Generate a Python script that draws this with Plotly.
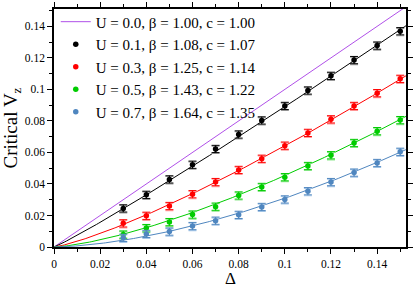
import numpy as np
import plotly.graph_objects as go

delta = [0.03, 0.04, 0.05, 0.06, 0.07, 0.08, 0.09, 0.10, 0.11, 0.12, 0.13, 0.14, 0.15]
U_vals = [0.0, 0.1, 0.3, 0.5, 0.7]
beta = [1.00, 1.08, 1.25, 1.43, 1.64]
c_vals = [1.00, 1.07, 1.14, 1.22, 1.35]

v_u01 = [0.0245, 0.0331, 0.0429, 0.0522, 0.0622, 0.0714, 0.0803, 0.0895, 0.0993, 0.1086, 0.1186, 0.1278, 0.1369]
v_u03 = [0.0150, 0.0198, 0.0260, 0.0335, 0.0412, 0.0489, 0.0560, 0.0643, 0.0724, 0.0810, 0.0895, 0.0976, 0.1067]
v_u05 = [0.0079, 0.0120, 0.0158, 0.0206, 0.0256, 0.0327, 0.0381, 0.0443, 0.0514, 0.0582, 0.0660, 0.0735, 0.0805]
v_u07 = [0.0058, 0.0083, 0.0098, 0.0133, 0.0167, 0.0204, 0.0254, 0.0302, 0.0354, 0.0412, 0.0472, 0.0533, 0.0604]
err = 0.0023

series = [None, v_u01, v_u03, v_u05, v_u07]
dark = ["#b050e8", "#000000", "#ff0000", "#00cc00", "#4f86bf"]
light = [None, "#9a9a9a", "#ff9a9a", "#90e890", "#a8c8e8"]

fig = go.Figure()
xfit = np.linspace(0, 0.1525, 200)
FONT = "Times New Roman, Liberation Serif, DejaVu Serif, serif"

for i in range(5):
    name = f"U = {U_vals[i]:.1f}, β = {beta[i]:.2f}, c = {c_vals[i]:.2f}"
    yfit = c_vals[i] * xfit ** beta[i]
    fig.add_trace(go.Scatter(x=xfit, y=yfit, mode="lines", showlegend=False,
                             line=dict(color=dark[i], width=1), hoverinfo="skip"))
    if series[i] is None:
        fig.add_trace(go.Scatter(x=[None], y=[None], mode="lines+markers", name=name,
                                 line=dict(color=dark[i], width=1),
                                 marker=dict(size=5.5, color="rgba(0,0,0,0)")))
        continue
    fig.add_trace(go.Scatter(x=delta, y=series[i], mode="markers", showlegend=False,
                             marker=dict(size=1, color="rgba(0,0,0,0)"),
                             error_y=dict(type="constant", value=err * 0.8, valueminus=err * 1.25,
                                          symmetric=False, color=light[i], thickness=1.2, width=4)))
    fig.add_trace(go.Scatter(x=delta, y=series[i], mode="markers", showlegend=False, name=name,
                             marker=dict(size=5.5, color=dark[i]),
                             error_y=dict(type="constant", value=err, color=dark[i],
                                          thickness=1, width=4)))
    fig.add_trace(go.Scatter(x=[None], y=[None], mode="markers", name=name,
                             marker=dict(size=5.5, color=dark[i])))

tickv = [0, 0.02, 0.04, 0.06, 0.08, 0.1, 0.12, 0.14]
tickt = ["0", "0.02", "0.04", "0.06", "0.08", "0.1", "0.12", "0.14"]

axis_common = dict(showgrid=False, zeroline=False, showline=True, linecolor="black", linewidth=1.5,
                   mirror="allticks", ticks="outside", ticklen=5, tickwidth=1, tickcolor="black",
                   tickvals=tickv, ticktext=tickt, automargin=False,
                   tickfont=dict(family=FONT, size=11.5, color="black"),
                   minor=dict(dtick=0.01, ticks="outside", ticklen=3, tickcolor="black", showgrid=False))

fig.update_layout(
    width=415, height=284,
    margin=dict(l=54, r=9, t=5, b=37),
    paper_bgcolor="white", plot_bgcolor="white",
    font=dict(family=FONT, color="black"),
    xaxis=dict(range=[0, 0.1525], **axis_common),
    yaxis=dict(range=[0, 0.151], title=dict(text="Critical V<sub>z</sub>", font=dict(family=FONT, size=19), standoff=4), **axis_common),
    legend=dict(x=0.005, y=1.015, xanchor="left", yanchor="top", bgcolor="rgba(255,255,255,0)",
                font=dict(family=FONT, size=15), tracegroupgap=0, itemwidth=30, traceorder="normal"),
    showlegend=True,
    annotations=[dict(text="Δ", xref="paper", yref="paper", x=0.5, y=-0.083, xanchor="center",
                      yanchor="top", showarrow=False, font=dict(family=FONT, size=17, color="black"))],
)

fig.write_html("out.html", config={"displayModeBar": False},
               post_script="document.body.style.margin='0px';document.body.style.padding='0px';")
